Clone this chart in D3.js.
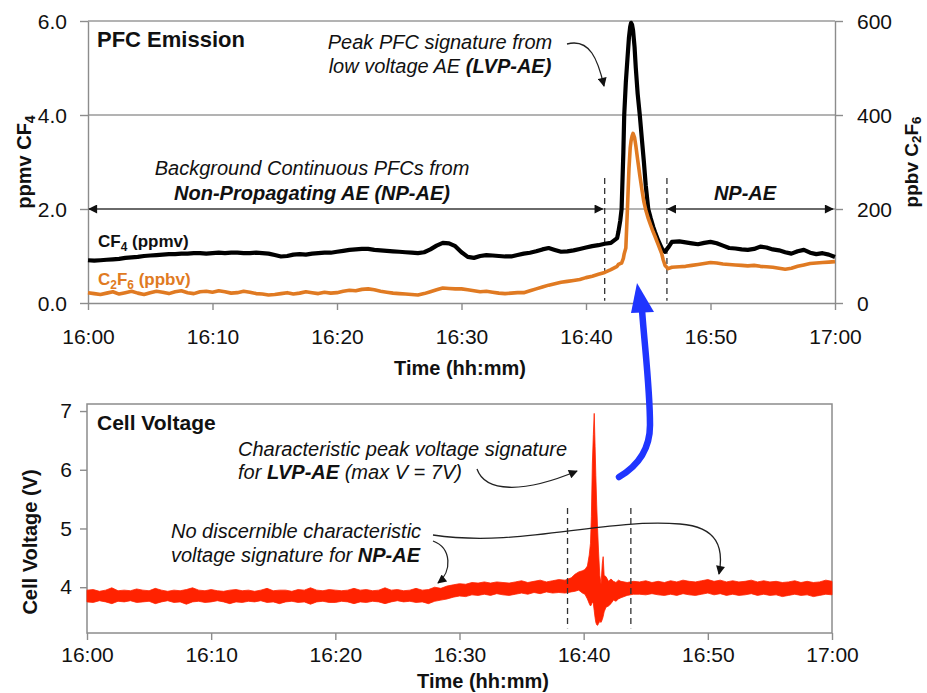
<!DOCTYPE html>
<html>
<head>
<meta charset="utf-8">
<script src="https://cdn.jsdelivr.net/npm/d3@7"></script>
<style>
  body { margin: 0; background: #fff; }
  svg text { font-family: "Liberation Sans", Arial, sans-serif; fill: #111; }
</style>
</head>
<body>
<svg id="chart" width="927" height="693"></svg>
<script>
// ---- data (minutes after 16:00) ----
const timeTicks = [0, 10, 20, 30, 40, 50, 60];
const timeTickLabels = ["16:00", "16:10", "16:20", "16:30", "16:40", "16:50", "17:00"];
const cf4Ticks = [0, 2, 4, 6];
const c2f6Ticks = [0, 200, 400, 600];
const voltTicks = [4, 5, 6, 7];

const pfcMinutes = [
  0, 0.5, 1, 1.5, 2, 2.5, 3, 3.5, 4, 4.5,
  5, 5.5, 6, 6.5, 7, 7.5, 8, 8.5, 9, 9.5,
  10, 10.5, 11, 11.5, 12, 12.5, 13, 13.5, 14, 14.5,
  15, 15.5, 16, 16.5, 17, 17.5, 18, 18.5, 19, 19.5,
  20, 20.5, 21, 21.5, 22, 22.5, 23, 23.5, 24, 24.5,
  25, 25.5, 26, 26.5, 27, 27.5, 28, 28.5, 29, 29.5,
  30, 30.5, 31, 31.5, 32, 32.5, 33, 33.5, 34, 34.5,
  35, 35.5, 36, 36.5, 37, 37.5, 38, 38.5, 39, 39.5,
  40, 40.5, 41, 41.5, 42, 42.5,
  42.6, 42.75, 42.86, 43.0, 43.07, 43.2, 43.33, 43.45, 43.55, 43.62,
  43.7, 43.78, 43.9, 44.0, 44.15, 44.32, 44.5, 44.65, 44.8, 45.0,
  45.2, 45.4, 45.54, 45.8, 46.08, 46.2, 46.35, 46.6, 46.9,
  47.5, 48, 48.5, 49, 49.5, 50, 50.5, 51, 51.5, 52,
  52.5, 53, 53.5, 54, 54.5, 55, 55.5, 56, 56.5, 57,
  57.5, 58, 58.5, 59, 59.5, 60
];
const cf4Ppmv = [
  0.91, 0.90, 0.91, 0.92, 0.93, 0.94, 0.96, 0.97, 0.98, 1.00,
  1.01, 1.02, 1.03, 1.04, 1.04, 1.05, 1.05, 1.06, 1.06, 1.05,
  1.06, 1.07, 1.06, 1.07, 1.07, 1.06, 1.06, 1.07, 1.06, 1.05,
  1.02, 0.99, 1.00, 1.03, 1.04, 1.03, 1.05, 1.06, 1.07, 1.07,
  1.09, 1.11, 1.13, 1.14, 1.15, 1.15, 1.13, 1.12, 1.11, 1.10,
  1.09, 1.08, 1.07, 1.06, 1.08, 1.14, 1.22, 1.28, 1.27, 1.21,
  1.08, 0.98, 0.96, 1.00, 1.02, 1.01, 1.00, 0.99, 0.99, 1.02,
  1.05, 1.07, 1.10, 1.14, 1.17, 1.13, 1.09, 1.10, 1.12, 1.15,
  1.18, 1.21, 1.23, 1.26, 1.28, 1.38,
  1.51, 1.75, 2.0, 3.2, 4.0, 4.7, 5.2, 5.65, 5.88, 5.96,
  5.92, 5.8, 5.45, 5.0, 4.45, 4.0, 3.45, 3.0, 2.5, 2.0,
  1.8, 1.62, 1.51, 1.33, 1.17, 1.12, 1.09, 1.18, 1.3,
  1.31, 1.29, 1.27, 1.25, 1.28, 1.30, 1.27, 1.22, 1.17, 1.16,
  1.14, 1.13, 1.15, 1.20, 1.18, 1.14, 1.12, 1.08, 1.05, 1.10,
  1.13, 1.07, 1.04, 1.06, 1.03, 0.98
];
const c2f6Ppbv = [
  22, 20, 18, 21, 24, 19, 22, 25, 21, 18,
  22, 25, 23, 20, 24, 26, 22, 20, 24, 25,
  23, 26, 24, 21, 22, 25, 23, 20, 19, 17,
  18, 20, 22, 19, 21, 24, 22, 20, 23, 21,
  22, 25, 27, 26, 29, 30, 28, 25, 23, 21,
  20, 19, 18, 17, 20, 24, 28, 32, 31, 30,
  30, 28, 26, 24, 25, 23, 21, 20, 21, 22,
  22, 26, 30, 34, 38, 41, 44, 46, 48, 50,
  54, 57, 61, 65, 71, 78,
  82, 84, 85, 95, 105, 117, 202, 285, 330, 345,
  355, 361, 352, 335, 305, 272, 240, 215, 198, 180,
  165, 151, 142, 124, 105, 92, 80, 73, 76,
  77, 78, 80, 82, 84, 86, 85, 83, 82, 81,
  80, 79, 80, 78, 77, 76, 74, 72, 74, 78,
  81, 84, 85, 86, 87, 88
];

const voltMinutes = [
  0, 0.5, 1, 1.5, 2, 2.5, 3, 3.5, 4, 4.5,
  5, 5.5, 6, 6.5, 7, 7.5, 8, 8.5, 9, 9.5,
  10, 10.5, 11, 11.5, 12, 12.5, 13, 13.5, 14, 14.5,
  15, 15.5, 16, 16.5, 17, 17.5, 18, 18.5, 19, 19.5,
  20, 20.5, 21, 21.5, 22, 22.5, 23, 23.5, 24, 24.5,
  25, 25.5, 26, 26.5, 27, 27.5, 28, 28.5, 29, 29.5,
  30, 30.5, 31, 31.5, 32, 32.5, 33, 33.5, 34, 34.5,
  35, 35.5, 36, 36.5, 37, 37.5, 38,
  38.5, 39.0, 39.3, 39.6, 39.9, 40.1, 40.3, 40.45, 40.55, 40.62,
  40.70, 40.78, 40.85, 40.92, 40.98, 41.05, 41.12, 41.2, 41.3, 41.4,
  41.5, 41.57, 41.65, 41.8, 42.0, 42.2, 42.4, 42.6, 42.8, 43.0,
  43.5, 44.0,
  44.5, 45, 45.5, 46, 46.5, 47, 47.5, 48, 48.5, 49,
  49.5, 50, 50.5, 51, 51.5, 52, 52.5, 53, 53.5, 54,
  54.5, 55, 55.5, 56, 56.5, 57, 57.5, 58, 58.5, 59,
  59.5, 60
];
const voltHigh = [
  3.95, 3.96, 3.93, 3.95, 3.99, 3.94, 3.95, 3.94, 3.97, 3.95,
  3.94, 3.98, 3.95, 3.93, 3.95, 3.94, 3.96, 3.99, 3.95, 3.94,
  3.96, 3.94, 3.93, 3.95, 3.96, 3.94, 3.95, 3.93, 3.95, 3.98,
  3.94, 3.95, 3.95, 3.93, 3.96, 3.95, 3.99, 3.95, 3.94, 3.96,
  3.95, 3.94, 3.95, 3.98, 3.95, 3.96, 3.94, 3.95, 3.99, 3.95,
  3.96, 3.94, 3.95, 3.98, 3.95, 3.96, 4.00, 3.98, 4.02, 4.04,
  4.06, 4.05, 4.08, 4.07, 4.09, 4.07, 4.09, 4.08, 4.07, 4.09,
  4.11, 4.08, 4.10, 4.12, 4.09, 4.11, 4.13,
  4.12, 4.16, 4.22, 4.26, 4.28, 4.30, 4.36, 4.55, 4.75, 5.20,
  6.10, 6.60, 6.96, 6.40, 5.90, 5.40, 5.00, 4.60, 4.20, 4.05,
  4.40, 4.52, 4.20, 4.18, 4.10, 4.14, 4.10, 4.08, 4.12, 4.10,
  4.08, 4.10,
  4.09, 4.11, 4.08, 4.10, 4.08, 4.11, 4.09, 4.12, 4.10, 4.09,
  4.11, 4.13, 4.10, 4.12, 4.09, 4.11, 4.09, 4.10, 4.12, 4.09,
  4.11, 4.09, 4.10, 4.08, 4.09, 4.11, 4.08, 4.10, 4.08, 4.09,
  4.12, 4.10
];
const voltLow = [
  3.75, 3.74, 3.77, 3.75, 3.72, 3.76, 3.75, 3.77, 3.74, 3.75,
  3.76, 3.72, 3.75, 3.77, 3.74, 3.75, 3.71, 3.75, 3.76, 3.74,
  3.75, 3.77, 3.75, 3.72, 3.75, 3.74, 3.76, 3.75, 3.77, 3.74,
  3.75, 3.72, 3.75, 3.76, 3.74, 3.75, 3.71, 3.75, 3.76, 3.74,
  3.74, 3.76, 3.75, 3.72, 3.75, 3.74, 3.76, 3.75, 3.72, 3.75,
  3.77, 3.75, 3.76, 3.74, 3.75, 3.72, 3.76, 3.78, 3.80, 3.83,
  3.85, 3.84, 3.87, 3.86, 3.88, 3.86, 3.89, 3.87, 3.86, 3.88,
  3.90, 3.88, 3.91, 3.89, 3.92, 3.90, 3.91,
  3.90, 3.92, 3.93, 3.95, 3.90, 3.88, 3.80, 3.72, 3.68, 3.70,
  3.75, 3.72, 3.60, 3.48, 3.40, 3.36, 3.35, 3.38, 3.42, 3.40,
  3.45, 3.50, 3.58, 3.66, 3.68, 3.72, 3.78, 3.76, 3.80, 3.82,
  3.86, 3.88,
  3.88, 3.87, 3.89, 3.87, 3.86, 3.88, 3.86, 3.89, 3.87, 3.86,
  3.88, 3.90, 3.87, 3.89, 3.86, 3.88, 3.86, 3.87, 3.89, 3.86,
  3.88, 3.86, 3.87, 3.84, 3.86, 3.88, 3.86, 3.87, 3.84, 3.86,
  3.88, 3.87
];

// dashed markers (minutes) and their vertical extent in axis units
const pfcDashMinutes = [41.5, 46.5];
const pfcDashSpan = [0.05, 2.66];
const voltDashMinutes = [38.7, 43.8];
const voltDashSpan = [3.30, 5.35];

const axisGrey = "#8c8c8c";
const orange = "#e07a22";
const red = "#ff2200";

const svg = d3.select("#chart");
const defs = svg.append("defs");
defs.append("marker")
    .attr("id", "head")
    .attr("viewBox", "0 0 10 10")
    .attr("refX", 9).attr("refY", 5)
    .attr("markerWidth", 12).attr("markerHeight", 9)
    .attr("markerUnits", "userSpaceOnUse")
    .attr("orient", "auto-start-reverse")
  .append("path")
    .attr("d", "M0,0 L10,5 L0,10 z")
    .attr("fill", "#111");

function styleAxis(g, size) {
    g.attr("font-family", null).attr("font-size", null);
    g.select(".domain").attr("stroke", axisGrey).attr("stroke-width", 1.4);
    g.selectAll(".tick line").attr("stroke", axisGrey).attr("stroke-width", 1.4);
    g.selectAll(".tick text").attr("font-size", size).attr("fill", "#111");
}

// text with mixed styles: parts = [[string, {bold, italic, sub, fill}]]
function richText(x, y, parts, anchor, size) {
    let t = svg.append("text")
        .attr("x", x).attr("y", y)
        .attr("text-anchor", anchor || "start")
        .attr("font-size", size || 20);
    let shifted = false;
    parts.forEach(function (p) {
        let o = p[1] || {};
        let s = t.append("tspan").text(p[0]);
        if (o.bold) s.attr("font-weight", "bold");
        if (o.italic) s.attr("font-style", "italic");
        if (o.fill) s.attr("fill", o.fill);
        if (o.sub) {
            s.attr("font-size", "0.7em");
            if (!shifted) { s.attr("dy", 4); shifted = true; }
        } else if (shifted) {
            s.attr("dy", -4); shifted = false;
        }
    });
    return t;
}

// ================= PFC emission panel =================
const xTop = d3.scaleLinear().domain([0, 60]).range([88, 835]);
const yCf4 = d3.scaleLinear().domain([0, 6]).range([303, 21]);
const yC2f6 = d3.scaleLinear().domain([0, 600]).range([303, 21]);

svg.selectAll(".grid").data(cf4Ticks.slice(1)).enter().append("line")
    .attr("class", "grid")
    .attr("x1", xTop(0)).attr("x2", xTop(60))
    .attr("y1", function (d) { return yCf4(d); })
    .attr("y2", function (d) { return yCf4(d); })
    .attr("stroke", "#9a9a9a").attr("stroke-width", 1.4);

svg.append("g").attr("transform", "translate(0," + yCf4(0) + ")")
    .call(d3.axisBottom(xTop).tickValues(timeTicks)
        .tickFormat(function (d, i) { return timeTickLabels[i]; })
        .tickSize(7).tickSizeOuter(0).tickPadding(19))
    .call(styleAxis, 21);

svg.append("g").attr("transform", "translate(" + xTop(0) + ",0)")
    .call(d3.axisLeft(yCf4).tickValues(cf4Ticks).tickFormat(d3.format(".1f"))
        .tickSize(8).tickSizeOuter(0).tickPadding(13))
    .call(styleAxis, 21)
    .selectAll(".tick text").attr("dy", "0.38em");

svg.append("g").attr("transform", "translate(" + xTop(60) + ",0)")
    .call(d3.axisRight(yC2f6).tickValues(c2f6Ticks).tickFormat(d3.format("d"))
        .tickSize(8).tickSizeOuter(0).tickPadding(14))
    .call(styleAxis, 21)
    .selectAll(".tick text").attr("dy", "0.38em");

// dashed event markers
svg.selectAll(".pfcDash").data(pfcDashMinutes).enter().append("line")
    .attr("x1", function (d) { return xTop(d); }).attr("x2", function (d) { return xTop(d); })
    .attr("y1", yCf4(pfcDashSpan[1])).attr("y2", yCf4(pfcDashSpan[0]))
    .attr("stroke", "#333").attr("stroke-width", 1.3).attr("stroke-dasharray", "6,4");

// NP-AE double arrows at the 2.0 level
[[0, pfcDashMinutes[0]], [pfcDashMinutes[1], 60]].forEach(function (r) {
    svg.append("line")
        .attr("x1", xTop(r[0]) + 1).attr("x2", xTop(r[1]) - 2)
        .attr("y1", yCf4(2)).attr("y2", yCf4(2))
        .attr("stroke", "#222").attr("stroke-width", 1.2)
        .attr("marker-start", "url(#head)").attr("marker-end", "url(#head)");
});

const cf4Data = pfcMinutes.map(function (t, i) { return { t: t, v: cf4Ppmv[i] }; });
const c2f6Data = pfcMinutes.map(function (t, i) { return { t: t, v: c2f6Ppbv[i] }; });

svg.append("path").datum(cf4Data)
    .attr("fill", "none").attr("stroke", "#000").attr("stroke-width", 4.2)
    .attr("stroke-linejoin", "round")
    .attr("d", d3.line().x(function (d) { return xTop(d.t); }).y(function (d) { return yCf4(d.v); }));

svg.append("path").datum(c2f6Data)
    .attr("fill", "none").attr("stroke", orange).attr("stroke-width", 3.6)
    .attr("stroke-linejoin", "round")
    .attr("d", d3.line().x(function (d) { return xTop(d.t); }).y(function (d) { return yC2f6(d.v); }));

// labels
richText(97, 47, [["PFC Emission", { bold: true }]], "start", 22);
richText(98, 247, [["CF", { bold: true }], ["4", { bold: true, sub: true }], [" (ppmv)", { bold: true }]], "start", 17);
richText(98, 285, [["C", { bold: true, fill: orange }], ["2", { bold: true, sub: true, fill: orange }],
    ["F", { bold: true, fill: orange }], ["6", { bold: true, sub: true, fill: orange }],
    [" (ppbv)", { bold: true, fill: orange }]], "start", 17);

richText(440, 49, [["Peak PFC signature from", { italic: true }]], "middle", 20);
richText(440, 73, [["low voltage AE ", { italic: true }], ["(LVP-AE)", { italic: true, bold: true }]], "middle", 20);
richText(312, 175, [["Background Continuous PFCs from", { italic: true }]], "middle", 20);
richText(312, 200, [["Non-Propagating AE (NP-AE)", { italic: true, bold: true }]], "middle", 20);
richText(745, 200, [["NP-AE", { italic: true, bold: true }]], "middle", 20);

richText(460, 375, [["Time (hh:mm)", { bold: true }]], "middle", 20);

svg.append("g").attr("transform", "translate(31,162) rotate(-90)")
    .append("text").attr("text-anchor", "middle").attr("font-size", 20).attr("font-weight", "bold")
    .call(function (t) {
        t.append("tspan").text("ppmv CF");
        t.append("tspan").text("4").attr("font-size", "0.7em").attr("dy", 4);
    });
svg.append("g").attr("transform", "translate(918,162) rotate(-90)")
    .append("text").attr("text-anchor", "middle").attr("font-size", 19).attr("font-weight", "bold")
    .call(function (t) {
        t.append("tspan").text("ppbv C");
        t.append("tspan").text("2").attr("font-size", "0.7em").attr("dy", 3);
        t.append("tspan").text("F").attr("dy", -3);
        t.append("tspan").text("6").attr("font-size", "0.7em").attr("dy", 3);
    });

// peak annotation arrow
svg.append("path")
    .attr("d", "M567,44 C590,38 598,60 604,86")
    .attr("fill", "none").attr("stroke", "#222").attr("stroke-width", 1.3)
    .attr("marker-end", "url(#head)");

// ================= Cell voltage panel =================
const xBot = d3.scaleLinear().domain([0, 60]).range([87, 832]);
const yVolt = d3.scaleLinear().domain([3.22, 7.12]).range([633, 404]);

svg.append("rect")
    .attr("x", xBot(0)).attr("y", yVolt(7.12))
    .attr("width", xBot(60) - xBot(0)).attr("height", yVolt(3.22) - yVolt(7.12))
    .attr("fill", "none").attr("stroke", axisGrey).attr("stroke-width", 1.5);

svg.append("g").attr("transform", "translate(0," + yVolt(3.22) + ")")
    .call(d3.axisBottom(xBot).tickValues(timeTicks)
        .tickFormat(function (d, i) { return timeTickLabels[i]; })
        .tickSize(7).tickSizeOuter(0).tickPadding(7))
    .call(styleAxis, 21)
    .select(".domain").remove();

svg.append("g").attr("transform", "translate(" + xBot(0) + ",0)")
    .call(d3.axisLeft(yVolt).tickValues(voltTicks).tickFormat(d3.format("d"))
        .tickSize(7).tickSizeOuter(0).tickPadding(8))
    .call(styleAxis, 21)
    .select(".domain").remove();

const voltData = voltMinutes.map(function (t, i) { return { t: t, hi: voltHigh[i], lo: voltLow[i] }; });

svg.append("path").datum(voltData)
    .attr("fill", red).attr("stroke", red).attr("stroke-width", 0.8)
    .attr("d", d3.area()
        .x(function (d) { return xBot(d.t); })
        .y0(function (d) { return yVolt(d.lo); })
        .y1(function (d) { return yVolt(d.hi); }));

svg.selectAll(".voltDash").data(voltDashMinutes).enter().append("line")
    .attr("x1", function (d) { return xBot(d); }).attr("x2", function (d) { return xBot(d); })
    .attr("y1", yVolt(voltDashSpan[1])).attr("y2", yVolt(voltDashSpan[0]))
    .attr("stroke", "#333").attr("stroke-width", 1.3).attr("stroke-dasharray", "6,4");

richText(97, 430, [["Cell Voltage", { bold: true }]], "start", 21);
richText(238, 456, [["Characteristic peak voltage signature", { italic: true }]], "start", 20);
richText(238, 479, [["for ", { italic: true }], ["LVP-AE", { italic: true, bold: true }], [" (max V = 7V)", { italic: true }]], "start", 20);
richText(171, 538, [["No discernible characteristic", { italic: true }]], "start", 20);
richText(171, 562, [["voltage signature for ", { italic: true }], ["NP-AE", { italic: true, bold: true }]], "start", 20);

richText(483, 688, [["Time (hh:mm)", { bold: true }]], "middle", 20);

svg.append("g").attr("transform", "translate(37,542) rotate(-90)")
    .append("text").attr("text-anchor", "middle").attr("font-size", 20).attr("font-weight", "bold")
    .text("Cell Voltage (V)");

// annotation arrows in the voltage panel
[
    "M477,469 C485,492 522,494 577,471",
    "M433,535 C520,548 600,518 680,524 C718,527 724,548 719,574",
    "M433,541 C452,548 452,572 438,583"
].forEach(function (d) {
    svg.append("path").attr("d", d)
        .attr("fill", "none").attr("stroke", "#222").attr("stroke-width", 1.3)
        .attr("marker-end", "url(#head)");
});

// blue link arrow from the voltage spike up to the PFC peak
svg.append("path")
    .attr("d", "M619,477 C636,467 650,452 650,425 C650,390 645,350 642,310")
    .attr("fill", "none").attr("stroke", "#1f35ff").attr("stroke-width", 6.5)
    .attr("stroke-linecap", "round");
svg.append("path")
    .attr("d", "M637,283 L631,313 L654,312 Z")
    .attr("fill", "#1f35ff");
</script>
</body>
</html>
